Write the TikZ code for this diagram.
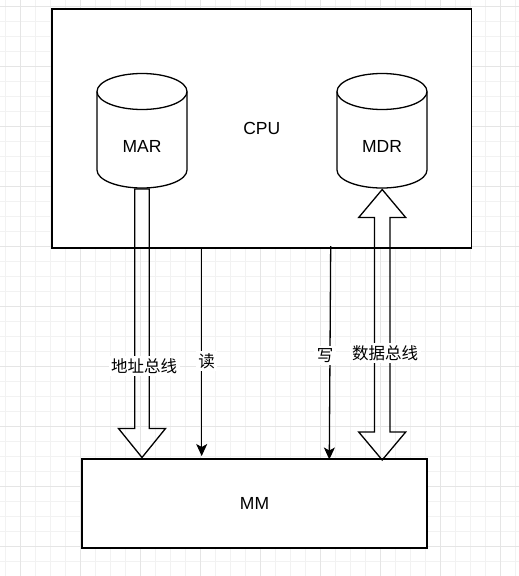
\documentclass[tikz,border=0pt]{standalone}
\usepackage{fontspec}
\setmainfont{Liberation Sans}
\newfontfamily\cjk{Noto Sans CJK SC}
\usetikzlibrary{arrows.meta,calc}
\begin{document}
\begin{tikzpicture}[x=1pt,y=-1pt,
  box/.style={draw=black, line width=1.3pt},
  lbl/.style={font=\fontsize{17.5}{20}\selectfont, text=black, inner sep=0pt},
  cjklbl/.style={font=\cjk\fontsize{16.5}{20}\selectfont, text=black, fill=white, inner sep=2.5pt},
  sig/.style={line width=1.3pt, -{Stealth[length=12pt,width=11pt,inset=3pt]}},
  bus/.style={line width=1.3pt, line join=miter},
  gridminor/.style={draw=black!5, line width=0.8pt},
  gridmajor/.style={draw=black!10, line width=1pt},
  pics/regcyl/.style={code={
    \draw[box, fill=white] (-45,0) -- (-45,78.5)
      .. controls (-45,88.44) and (-24.85,96.5) .. (0,96.5)
      .. controls (24.85,96.5) and (45,88.44) .. (45,78.5)
      -- (45,0)
      .. controls (45,-9.94) and (24.85,-18) .. (0,-18)
      .. controls (-24.85,-18) and (-45,-9.94) .. (-45,0) -- cycle;
    \draw[box] (-45,0) .. controls (-45,9.94) and (-24.85,18) .. (0,18)
      .. controls (24.85,18) and (45,9.94) .. (45,0);
  }}]
\useasboundingbox (0,0) rectangle (519,576);
\fill[white] (0,0) rectangle (519,576);
% background grid
\foreach \x in {5,20,...,515} \draw[gridminor] (\x,0) -- (\x,576);
\foreach \y in {6.7,21.7,...,575} \draw[gridminor] (0,\y) -- (519,\y);
\foreach \x in {20,80,...,500} \draw[gridmajor] (\x,0) -- (\x,576);
\foreach \y in {6.7,66.7,...,560} \draw[gridmajor] (0,\y) -- (519,\y);

% CPU and main memory
\node[box, fill=white, lbl, minimum width=419.5pt, minimum height=239pt] (cpu) at (261.75,128.5) {CPU};
\node[box, fill=white, lbl, minimum width=345pt, minimum height=89pt] (mm) at (254.5,503.5) {MM};

% registers
\pic at (142,91.5) {regcyl};
\node[lbl] (mar) at (142,146.5) {MAR};
\pic at (382,91.5) {regcyl};
\node[lbl] (mdr) at (382,146.5) {MDR};

\coordinate (marbot) at (142,188);
\coordinate (addrtip) at (142,457.5);
\coordinate (datatop) at (382.2,189.5);
\coordinate (databot) at (382.2,460);

% address bus
\draw[bus] ($(marbot)+(-7.3,1)$) -- ($(addrtip)+(-7.3,-29)$) -- ($(addrtip)+(-23.5,-29)$)
  -- (addrtip) -- ($(addrtip)+(23.5,-29)$) -- ($(addrtip)+(7.3,-29)$)
  -- ($(marbot)+(7.3,1)$) -- cycle;

% data bus
\draw[bus] (datatop) -- ($(datatop)+(23.5,28)$) -- ($(datatop)+(7.8,28)$)
  -- ($(databot)+(7.8,-28)$) -- ($(databot)+(23.5,-28)$) -- (databot)
  -- ($(databot)+(-23.5,-28)$) -- ($(databot)+(-7.8,-28)$)
  -- ($(datatop)+(-7.8,28)$) -- ($(datatop)+(-23.5,28)$) -- cycle;

% read / write signals
\coordinate (rd0) at (201.7,248);
\coordinate (rd1) at (201.7,456);
\coordinate (wr0) at (330.7,246);
\coordinate (wr1) at (329.3,459.5);
\draw[sig] (rd0) -- (rd1);
\draw[sig] (wr0) -- (wr1);

% labels
\node[cjklbl] (addrlbl) at (144.2,366) {地址总线};
\node[cjklbl] (rdlbl) at (206.6,361) {读};
\node[cjklbl] (wrlbl) at (325,355.5) {写};
\node[cjklbl] (datalbl) at (385,353) {数据总线};
\end{tikzpicture}
\end{document}
